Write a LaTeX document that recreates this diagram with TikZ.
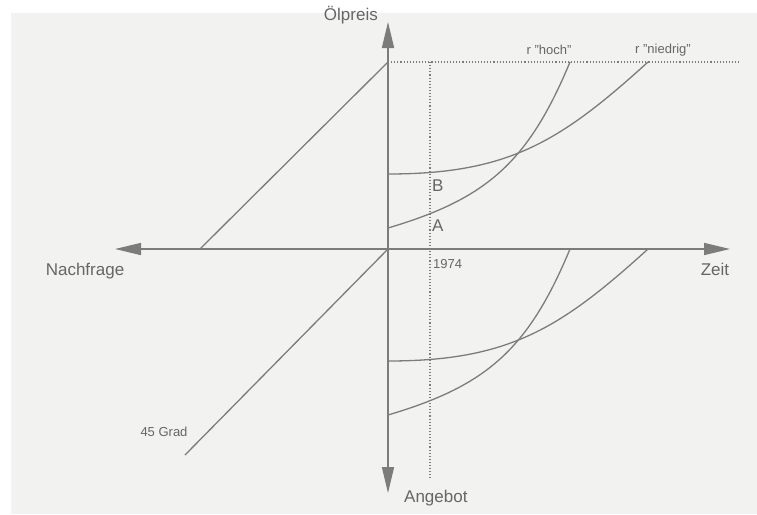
\documentclass[tikz,border=0pt]{standalone}
\usepackage{fontspec}
\setmainfont{Liberation Sans}
\usetikzlibrary{arrows.meta}
\definecolor{paper}{HTML}{F2F2F1}
\definecolor{inkGray}{HTML}{7C7C7C}
\definecolor{textGray}{HTML}{666666}

\begin{document}
\begin{tikzpicture}[x=1pt,y=-1pt,
    axis/.style={draw=inkGray,line width=1.6pt,-{Triangle[length=26pt,width=12pt]}},
    curve/.style={draw=inkGray,line width=1.3pt},
    guide/.style={draw=inkGray,line width=1.1pt,dotted},
    lbl/.style={text=textGray,font=\fontsize{17}{19}\selectfont,inner sep=1pt},
    small/.style={text=textGray,font=\fontsize{13}{15}\selectfont,inner sep=1pt}]
  \fill[white] (0,0) rectangle (757,514);
  \fill[paper] (11,13) rectangle (757,514);
  \useasboundingbox (0,0) rectangle (757,514);
  % axes
  \coordinate (O) at (388,249);
  \coordinate (top) at (388,22);
  \coordinate (bottom) at (388,493);
  \coordinate (left) at (115,249);
  \coordinate (right) at (730,249);
  \draw[axis] (O) -- (top);
  \draw[axis] (O) -- (bottom);
  \draw[axis] (O) -- (left);
  \draw[axis] (O) -- (right);
  % 45 degree lines
  \coordinate (peak) at (388,62);
  \coordinate (foot) at (200,249);
  \coordinate (gradEnd) at (185,455);
  \draw[curve] (foot) -- (peak);
  \draw[curve] (O) -- (gradEnd);
  % dotted guides
  \coordinate (ceilEnd) at (740,62);
  \coordinate (yearTop) at (430,62);
  \coordinate (yearBot) at (430,478);
  \draw[guide] (peak) -- (ceilEnd);
  \draw[guide] (yearTop) -- (yearBot);
  % price paths
  \coordinate (A) at (388,228);
  \coordinate (B) at (388,174);
  \coordinate (hochTop) at (570,62);
  \coordinate (niedTop) at (648,62);
  \draw[curve] (A) .. controls (486,199) and (528,163) .. (hochTop);
  \draw[curve] (B) .. controls (508,174) and (560,142) .. (niedTop);
  % supply paths
  \coordinate (A2) at (388,415);
  \coordinate (B2) at (388,361);
  \coordinate (hochAx) at (570,249);
  \coordinate (niedAx) at (648,249);
  \draw[curve] (A2) .. controls (486,386) and (528,350) .. (hochAx);
  \draw[curve] (B2) .. controls (508,361) and (560,329) .. (niedAx);
  % labels
  \node[lbl,anchor=east] (oil) at (379,15) {Ölpreis};
  \node[lbl,anchor=north west] (supply) at (403,489) {Angebot};
  \node[lbl] (demand) at (85,271) {Nachfrage};
  \node[lbl] (time) at (715,269) {Zeit};
  \node[lbl,anchor=west] (labB) at (431,186) {B};
  \node[lbl,anchor=west] (labA) at (431,226) {A};
  \node[small,anchor=west] (year) at (432,264) {1974};
  \node[small] (grad) at (164,432) {45 Grad};
  \node[small] (hoch) at (549,50) {r "hoch"};
  \node[small] (nied) at (663,50) {r "niedrig"};
\end{tikzpicture}
\end{document}
